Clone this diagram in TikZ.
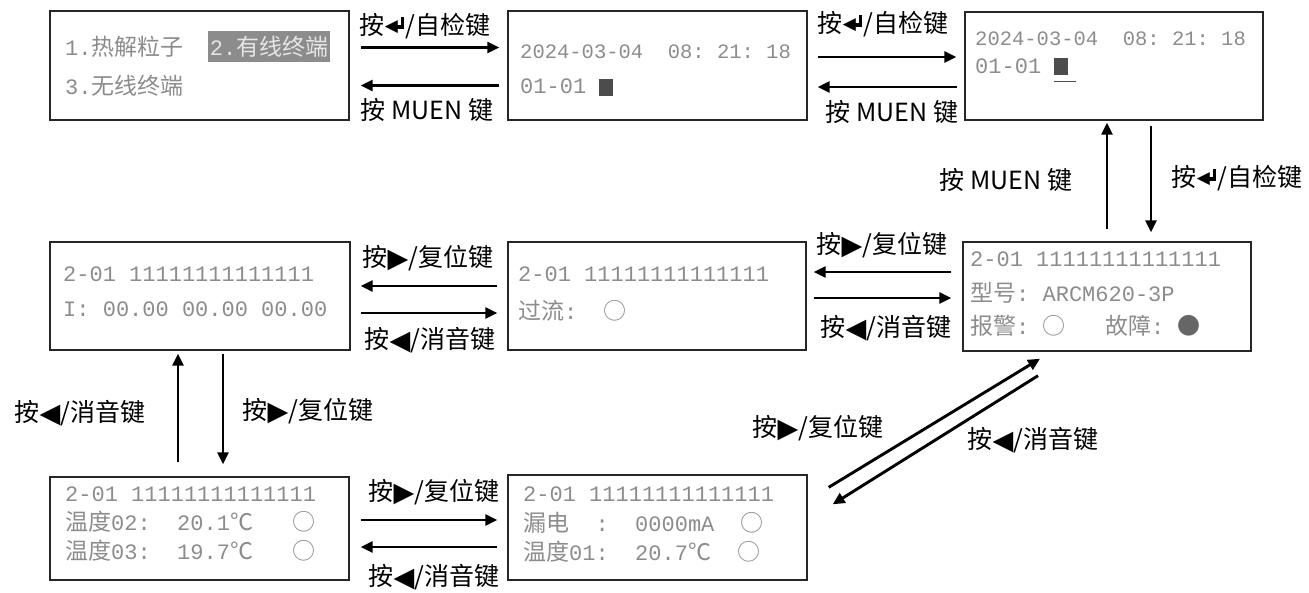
\documentclass[tikz,border=0pt]{standalone}
\usepackage{fontspec}
\newfontfamily\cjk{Noto Sans CJK SC}
\newfontfamily\lcd{Liberation Mono}
\newfontfamily\sym{DejaVu Sans}
\usetikzlibrary{arrows.meta}
\newcommand\zh[1]{{\cjk\fontsize{23}{26}\selectfont #1}}
\newcommand\ent{\raisebox{2.5pt}{\sym\fontsize{17}{17}\selectfont ◀}\kern-3pt\rule[5.5pt]{6pt}{3.4pt}\rule[5.5pt]{3.4pt}{12pt}\kern1pt}
\newcommand\rgt{\raisebox{-1pt}{\sym\fontsize{27}{27}\selectfont ▶}}
\newcommand\lft{\raisebox{-1pt}{\sym\fontsize{27}{27}\selectfont ◀}}
\newcommand\blk{\textcolor{black!70}{\rule[-2pt]{14pt}{17pt}}}
\newcommand\cur{\rlap{\textcolor{black!70}{\rule[-9pt]{22pt}{1.2pt}}}}
\begin{document}
\begin{tikzpicture}[x=1pt,y=-1pt]
				\colorlet{lcd text}{black!45}
				\colorlet{lcd edge}{black!85}
				\tikzset{screen/.style={draw=lcd edge, line width=1.4pt, inner sep=0pt},
					lcdline/.style={anchor=west, inner sep=0pt, text=lcd text, font=\lcd\fontsize{22}{26}\selectfont},
					hilite/.style={fill=black!45, text=black!10, inner sep=0pt, font=\lcd\fontsize{22}{26}\selectfont},
					keylabel/.style={inner sep=0pt, font=\cjk\fontsize{25}{28}\selectfont},
					arr/.style={line width=2.9pt, -{Triangle[length=12pt,width=11pt]}}}
				\useasboundingbox (0,0) rectangle (1309,592);
				% screens
				\node[screen, minimum width=299pt, minimum height=109pt] (s1) at (199.5,65.5) {};
				\node[screen, minimum width=299pt, minimum height=109pt] (s2) at (657.5,65.5) {};
				\node[screen, minimum width=298pt, minimum height=108pt] (s3) at (1114,66) {};
				\node[screen, minimum width=300pt, minimum height=108pt] (s4) at (200,296) {};
				\node[screen, minimum width=298pt, minimum height=108pt] (s5) at (657,296) {};
				\node[screen, minimum width=288pt, minimum height=109pt] (s6) at (1107,296.5) {};
				\node[screen, minimum width=299pt, minimum height=103pt] (s7) at (199.5,528.5) {};
				\node[screen, minimum width=299pt, minimum height=105pt] (s8) at (657.5,527.5) {};
				% screen texts
				\node[lcdline] (s1a) at (65,47) {1.\zh{热解粒子}};
				\node[hilite, minimum width=122pt, minimum height=31pt] (s1b) at (269,46.5) {2.\zh{有线终端}};
				\node[lcdline] (s1c) at (65,86) {3.\zh{无线终端}};
				\node[lcdline, font=\lcd\fontsize{20.5}{24}\selectfont] (s2a) at (520,52) {2024-03-04~~08:~21:~18};
				\node[lcdline] (s2b) at (520,87) {01-01~\blk};
				\node[lcdline, font=\lcd\fontsize{20.5}{24}\selectfont] (s3a) at (975,39) {2024-03-04~~08:~21:~18};
				\node[lcdline] (s3b) at (975,70) {01-01~\cur\blk};
				\node[lcdline] (s4a) at (63,274) {2-01 11111111111111};
				\node[lcdline] (s4b) at (63,309) {I:~00.00~00.00~00.00};
				\node[lcdline] (s5a) at (518,274) {2-01 11111111111111};
				\node[lcdline] (s5b) at (518,311) {\zh{过流}:~~\zh{○}};
				\node[lcdline] (s6a) at (970,259) {2-01 11111111111111};
				\node[lcdline] (s6b) at (970,293) {\zh{型号}:~ARCM620-3P};
				\node[lcdline] (s6c) at (970,326) {\zh{报警}:~\zh{○}~~~\zh{故障}:~\zh{\textcolor{black!60}{●}}};
				\node[lcdline] (s7a) at (65,494) {2-01 11111111111111};
				\node[lcdline] (s7b) at (65,522) {\zh{温度}02:~~20.1\zh{℃}~~~\zh{○}};
				\node[lcdline] (s7c) at (65,551) {\zh{温度}03:~~19.7\zh{℃}~~~\zh{○}};
				\node[lcdline] (s8a) at (523,494) {2-01 11111111111111};
				\node[lcdline] (s8b) at (523,523) {\zh{漏电}~~:~~0000mA~~\zh{○}};
				\node[lcdline] (s8c) at (523,552) {\zh{温度}01:~~20.7\zh{℃}~~\zh{○}};
				% key labels
				\node[keylabel] (k1) at (425,26) {按\ent/自检键};
				\node[keylabel] (k2) at (427,110) {按 MUEN 键};
				\node[keylabel] (k3) at (883,24) {按\ent/自检键};
				\node[keylabel] (k4) at (892,112) {按 MUEN 键};
				\node[keylabel] (k5) at (1006,180) {按 MUEN 键};
				\node[keylabel] (k6) at (1237,178) {按\ent/自检键};
				\node[keylabel] (k7) at (882,245) {按\rgt/复位键};
				\node[keylabel] (k8) at (886,328) {按\lft/消音键};
				\node[keylabel] (k9) at (428,258) {按\rgt/复位键};
				\node[keylabel] (k10) at (430,340) {按\lft/消音键};
				\node[keylabel] (k11) at (80,413) {按\lft/消音键};
				\node[keylabel] (k12) at (308,411) {按\rgt/复位键};
				\node[keylabel] (k13) at (434,492) {按\rgt/复位键};
				\node[keylabel] (k14) at (434,577) {按\lft/消音键};
				\node[keylabel] (k15) at (818,428) {按\rgt/复位键};
				\node[keylabel] (k16) at (1033,440) {按\lft/消音键};
				% transitions
				\draw[arr] ([xshift=11pt,yshift=18pt]s1.east) -- ([xshift=-8pt,yshift=18pt]s2.west);
				\draw[arr] ([xshift=-8pt,yshift=-20pt]s2.west) -- ([xshift=11pt,yshift=-20pt]s1.east);
				\draw[arr] ([xshift=10pt,yshift=8.5pt]s2.east) -- ([xshift=-8pt,yshift=9pt]s3.west);
				\draw[arr] ([xshift=-7pt,yshift=-21pt]s3.west) -- ([xshift=10pt,yshift=-21.5pt]s2.east);
				\draw[arr] ([xshift=37pt,yshift=-5pt]s3.south) -- ([xshift=44pt,yshift=9pt]s6.north);
				\draw[arr] ([yshift=12pt]s6.north) -- ([xshift=-7pt,yshift=-2pt]s3.south);
				\draw[arr] ([xshift=-11pt,yshift=24.5pt]s6.west) -- ([xshift=7pt,yshift=24pt]s5.east);
				\draw[arr] ([xshift=7pt,yshift=-2pt]s5.east) -- ([xshift=-11pt,yshift=-1.5pt]s6.west);
				\draw[arr] ([xshift=-10pt,yshift=10pt]s5.west) -- ([xshift=10pt,yshift=10pt]s4.east);
				\draw[arr] ([xshift=10pt,yshift=-17pt]s4.east) -- ([xshift=-10pt,yshift=-17pt]s5.west);
				\draw[arr] ([xshift=-21.5pt,yshift=14pt]s7.north) -- ([xshift=-22pt,yshift=-3pt]s4.south);
				\draw[arr] ([xshift=23pt,yshift=-3pt]s4.south) -- ([xshift=23.5pt,yshift=12pt]s7.north);
				\draw[arr] ([xshift=11pt,yshift=8.5pt]s7.east) -- ([xshift=-10pt,yshift=7.5pt]s8.west);
				\draw[arr] ([xshift=-10pt,yshift=-19.5pt]s8.west) -- ([xshift=11pt,yshift=-18.5pt]s7.east);
				\draw[arr] ([xshift=21pt,yshift=-13pt]s8.north east) -- ([xshift=-67pt,yshift=-7pt]s6.south);
				\draw[arr] ([xshift=-69pt,yshift=-24pt]s6.south) -- ([xshift=25pt,yshift=-30pt]s8.north east);
\end{tikzpicture}
\end{document}
